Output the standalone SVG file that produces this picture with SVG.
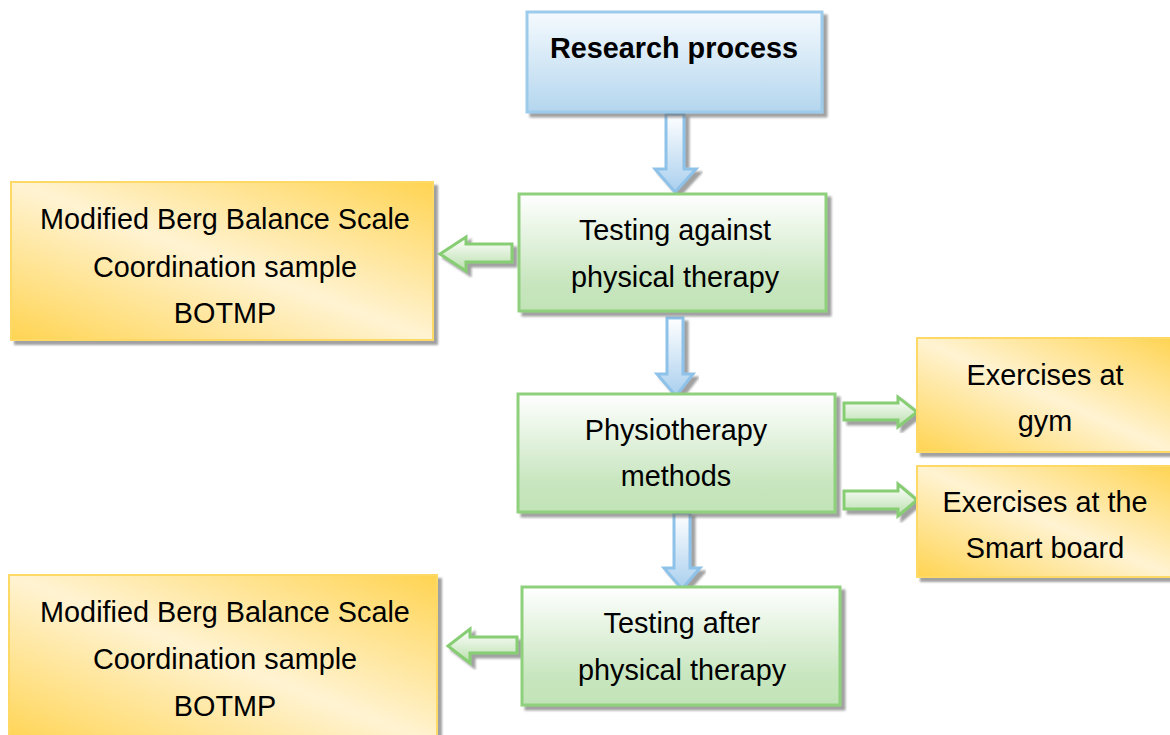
<svg xmlns="http://www.w3.org/2000/svg" width="1170" height="735" viewBox="0 0 1170 735">
<defs>
<linearGradient id="gBlue" x1="0" y1="0" x2="0" y2="1"><stop offset="0" stop-color="#f5fafe"/><stop offset="1" stop-color="#b4d6ee"/></linearGradient>
<linearGradient id="gGreen" x1="0" y1="0" x2="0" y2="1"><stop offset="0" stop-color="#ffffff"/><stop offset="0.75" stop-color="#c8e6bf"/><stop offset="1" stop-color="#c2e3b7"/></linearGradient>
<linearGradient id="gOrange" x1="1" y1="0" x2="0" y2="1"><stop offset="0" stop-color="#ffd452"/><stop offset="0.5" stop-color="#fff3d2"/><stop offset="1" stop-color="#ffd452"/></linearGradient>
<linearGradient id="gBlueArrow" x1="0" y1="0" x2="0" y2="1"><stop offset="0" stop-color="#ffffff"/><stop offset="1" stop-color="#a9cfee"/></linearGradient>
<linearGradient id="gGreenArrow" x1="0" y1="0" x2="0" y2="1"><stop offset="0" stop-color="#ffffff"/><stop offset="1" stop-color="#b9dfac"/></linearGradient>
<filter id="sh" x="-10%" y="-10%" width="125%" height="130%"><feDropShadow dx="4" dy="4" stdDeviation="1" flood-color="#6e6e6e" flood-opacity="0.65"/></filter>
</defs>
<style>
.t{font-family:"Liberation Sans",Arial,sans-serif;font-size:28.8px;fill:#000;text-anchor:middle}
.b{font-weight:bold}
.blue{fill:url(#gBlue);stroke:#9ccbeb;stroke-width:3}
.green{fill:url(#gGreen);stroke:#8fd07c;stroke-width:3}
.orange{fill:url(#gOrange);stroke:#ffd966;stroke-width:2}
.ab{fill:url(#gBlueArrow);stroke:#8ec2e9;stroke-width:3;stroke-linejoin:miter}
.ag{fill:url(#gGreenArrow);stroke:#86cd73;stroke-width:3;stroke-linejoin:miter}
</style>
<rect width="1170" height="735" fill="#ffffff"/>
<g id="connectors">
<polygon class="ab" filter="url(#sh)" points="666,114 684,114 684,169 696,169 675,192 655,169 666,169"/>
<polygon class="ab" filter="url(#sh)" points="667,318 683,318 683,374 693,374 676,396 657,374 667,374"/>
<polygon class="ab" filter="url(#sh)" points="674,513 690,513 690,568 700,568 682,589 664,568 674,568"/>
<polygon class="ag" filter="url(#sh)" points="512,244 466,244 466,237 440,254 466,271 466,262 512,262"/>
<polygon class="ag" filter="url(#sh)" points="517,637 470,637 470,629 448,646 470,663 470,653 517,653"/>
<polygon class="ag" filter="url(#sh)" points="844,403 898,403 898,397 917,412 898,427 898,420 844,420"/>
<polygon class="ag" filter="url(#sh)" points="844,491 898,491 898,484 917,500 898,516 898,509 844,509"/>
</g>
<g id="research">
<rect class="blue" filter="url(#sh)" x="527" y="12" width="295" height="100"/>
<text class="t b" x="674" y="58">Research process</text>
</g>
<g id="testing-against">
<rect class="green" filter="url(#sh)" x="519" y="194" width="307" height="117"/>
<text class="t" x="675" y="240">Testing against</text>
<text class="t" x="675" y="287">physical therapy</text>
</g>
<g id="tests-before">
<rect class="orange" filter="url(#sh)" x="11" y="182" width="422" height="158"/>
<text class="t" x="225" y="229">Modified Berg Balance Scale</text>
<text class="t" x="225" y="277">Coordination sample</text>
<text class="t" x="225" y="323">BOTMP</text>
</g>
<g id="physiotherapy">
<rect class="green" filter="url(#sh)" x="518" y="394" width="317" height="118"/>
<text class="t" x="676" y="440">Physiotherapy</text>
<text class="t" x="676" y="486">methods</text>
</g>
<g id="gym">
<rect class="orange" filter="url(#sh)" x="917" y="338" width="258" height="114"/>
<text class="t" x="1045" y="385">Exercises at</text>
<text class="t" x="1045" y="431">gym</text>
</g>
<g id="smartboard">
<rect class="orange" filter="url(#sh)" x="917" y="466" width="258" height="111"/>
<text class="t" x="1045" y="512">Exercises at the</text>
<text class="t" x="1045" y="558">Smart board</text>
</g>
<g id="testing-after">
<rect class="green" filter="url(#sh)" x="522" y="587" width="318" height="118"/>
<text class="t" x="682" y="633">Testing after</text>
<text class="t" x="682" y="680">physical therapy</text>
</g>
<g id="tests-after">
<rect class="orange" filter="url(#sh)" x="9" y="575" width="428" height="170"/>
<text class="t" x="225" y="622">Modified Berg Balance Scale</text>
<text class="t" x="225" y="669">Coordination sample</text>
<text class="t" x="225" y="716">BOTMP</text>
</g>
</svg>
